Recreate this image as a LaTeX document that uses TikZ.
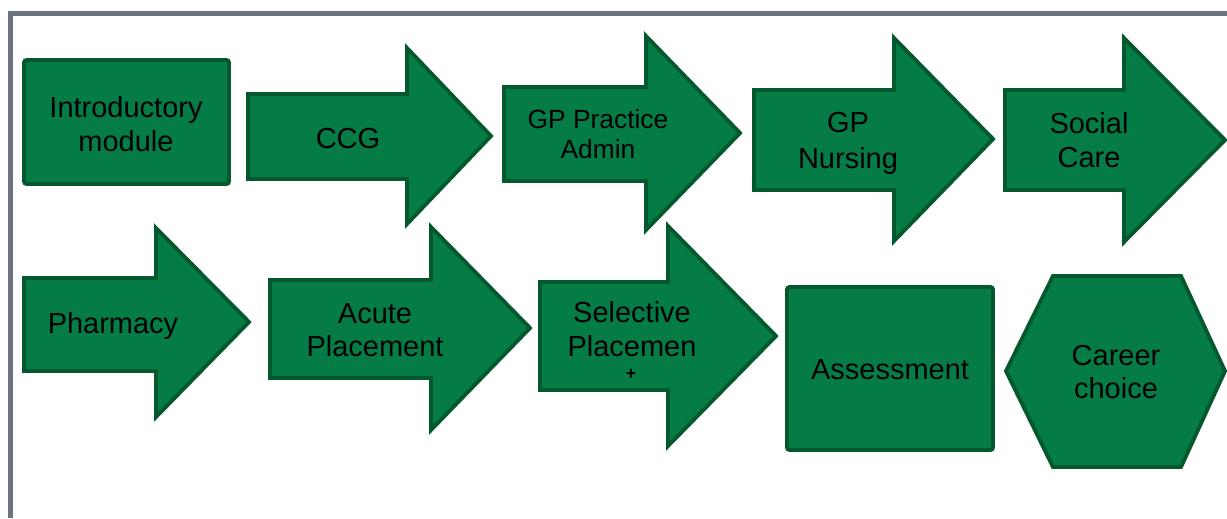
\documentclass[tikz,border=0pt]{standalone}
\usepackage{fontspec}
\setmainfont{Liberation Sans}
\usepackage{xcolor}
\definecolor{stagefill}{RGB}{5,123,69}
\definecolor{stageline}{RGB}{3,89,45}
\definecolor{frameline}{RGB}{107,114,128}
\tikzset{every node/.append style={font=\fontsize{16.5}{19}\selectfont, align=center}}
\tikzset{stage/.style={draw=stageline, fill=stagefill, line width=2.2pt, line join=miter}}

\begin{document}
\begin{tikzpicture}[x=0.02cm, y=-0.02cm]
    \useasboundingbox (0,0) rectangle (1227,518);
    % frame on top and left
    \draw[frameline, line width=2.8pt] (8,13.5) -- (1227,13.5);
    \draw[frameline, line width=2.8pt] (10.8,13.5) -- (10.8,518);

    % first row
    \draw[stage, rounded corners=1.5pt] (24,60) rectangle (229,184);
    \node (intro) at (126,124) {Introductory\\module};

    \draw[stage] (248,94) -- (407,94) -- (407,48) -- (491,136) -- (407,224) -- (407,179) -- (248,179) -- cycle;
    \node (ccg) at (348,139) {CCG};

    \draw[stage] (504,87) -- (646,87) -- (646,36) -- (740,133) -- (646,230) -- (646,181) -- (504,181) -- cycle;
    \node[font=\fontsize{15}{17}\selectfont] (gpadmin) at (598,134) {GP Practice\\Admin};

    \draw[stage] (754,90) -- (894,90) -- (894,38) -- (993,139) -- (894,241) -- (894,190) -- (754,190) -- cycle;
    \node[font=\fontsize{16.5}{20.5}\selectfont] (gpnursing) at (848,143) {GP\\Nursing};

    \draw[stage] (1005,90) -- (1124,90) -- (1124,38) -- (1225,140) -- (1124,242) -- (1124,190) -- (1005,190) -- cycle;
    \node (socialcare) at (1089,140) {Social\\Care};

    % second row
    \draw[stage] (24,278) -- (156,278) -- (156,228) -- (249,322) -- (156,417) -- (156,371) -- (24,371) -- cycle;
    \node (pharmacy) at (113,326) {Pharmacy};

    \draw[stage] (270,280) -- (431,280) -- (431,227) -- (530,328) -- (431,430) -- (431,378) -- (270,378) -- cycle;
    \node (acute) at (375,330) {Acute\\Placement};

    \draw[stage] (540,282) -- (668,282) -- (668,226) -- (776,336) -- (668,446) -- (668,390) -- (540,390) -- cycle;
    \node (selective) at (632,329) {Selective\\Placemen};
    \node[font=\fontsize{10}{10}\selectfont\bfseries] (selectivecut) at (631,374) {+};

    \draw[stage, rounded corners=1.5pt] (787,287) rectangle (993,450);
    \node (assessment) at (890,370) {Assessment};

    \draw[stage] (1006,371) -- (1053,276) -- (1181,276) -- (1225,371) -- (1181,467) -- (1053,467) -- cycle;
    \node (career) at (1116,372) {Career\\choice};
\end{tikzpicture}
\end{document}
